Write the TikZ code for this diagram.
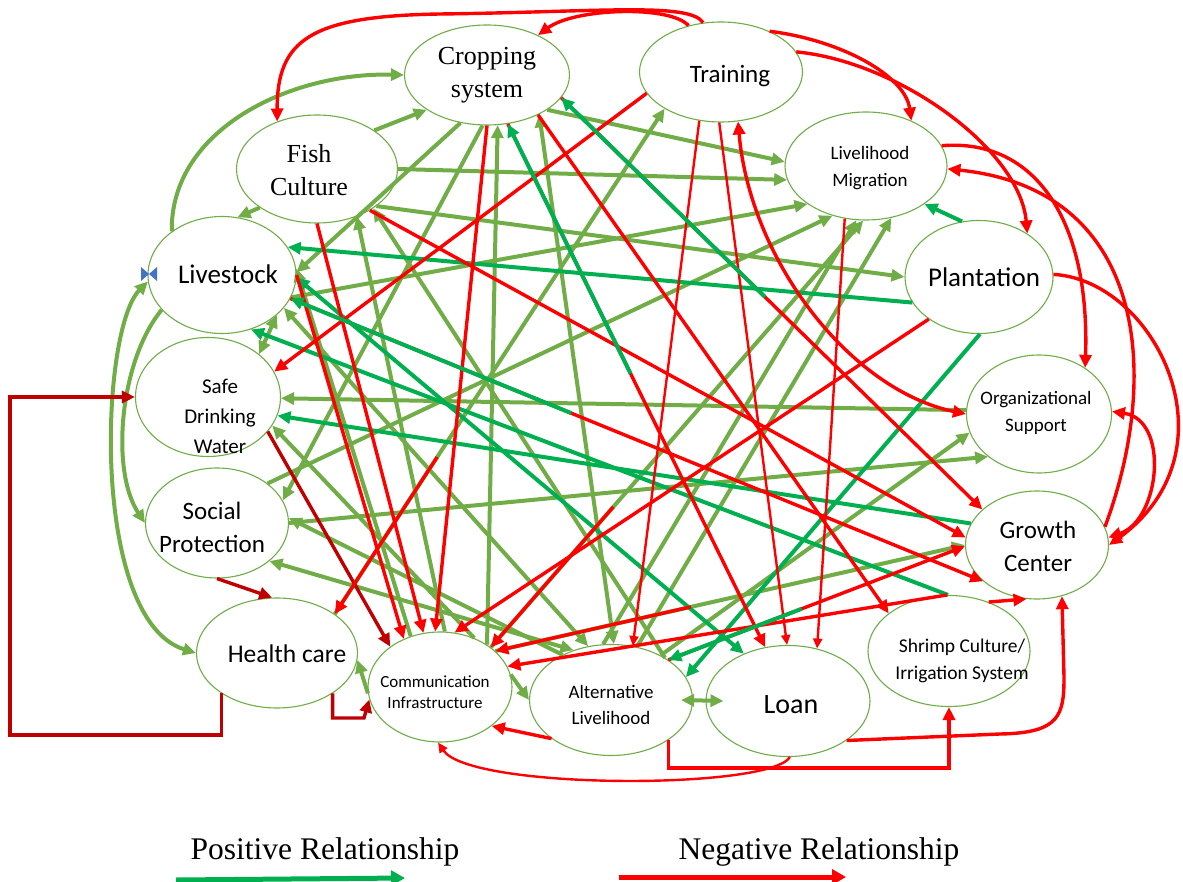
\documentclass[tikz,border=0pt]{standalone}
\usepackage{fontspec}
\setmainfont{Liberation Serif}
\newfontfamily\cb{Carlito}
\usetikzlibrary{shapes.geometric,arrows.meta}
\definecolor{olv}{HTML}{70AD47}
\definecolor{grn}{HTML}{00B050}
\definecolor{rd}{HTML}{FF0000}
\definecolor{drd}{HTML}{C00000}
\definecolor{bmk}{HTML}{4472C4}
\tikzset{
 ell/.style={ellipse, draw=olv, line width=1.1pt, fill=white, inner sep=0pt},
 lbl/.style={align=center, inner sep=0pt, text=black},
 olvl/.style={olv, line width=4pt, ->},
 grnl/.style={grn, line width=4pt, ->},
 redl/.style={rd, line width=3.4pt, ->},
 thinr/.style={rd, line width=2.4pt, -{Triangle[length=10pt,width=9pt]}},
 drdl/.style={drd, line width=3.4pt, ->},
 legl/.style={line width=5pt, -{Triangle[length=14pt,width=15pt]}}
}
\begin{document}
\begin{tikzpicture}[x=1pt,y=-1pt,>={Triangle[length=13pt,width=12pt]}]
\fill[white] (0,0) rectangle (1183,882);
\useasboundingbox (0,0) rectangle (1183,882);
% nodes
\node[ell, minimum width=165pt, minimum height=100pt] (CS) at (487,75) {};
\node[ell, minimum width=163pt, minimum height=100pt] (TR) at (721,72) {};
\node[ell, minimum width=161pt, minimum height=108pt] (FC) at (317,169) {};
\node[ell, minimum width=162pt, minimum height=108pt] (LM) at (866,166) {};
\node[ell, minimum width=148pt, minimum height=117pt] (LS) at (222,275) {};
\node[ell, minimum width=148pt, minimum height=113pt] (PL) at (979,277) {};
\node[ell, minimum width=145pt, minimum height=119pt] (SDW) at (208,397) {};
\node[ell, minimum width=145pt, minimum height=118pt] (OS) at (1039,414) {};
\node[ell, minimum width=143pt, minimum height=110pt] (SP) at (217,523) {};
\node[ell, minimum width=143pt, minimum height=108pt] (GC) at (1037,545) {};
\node[ell, minimum width=161pt, minimum height=110pt] (HC) at (277,653) {};
\node[ell, minimum width=144pt, minimum height=110pt] (CI) at (440,687) {};
\node[ell, minimum width=163pt, minimum height=111pt] (AL) at (611,700) {};
\node[ell, minimum width=164pt, minimum height=111pt] (LO) at (788,701) {};
\node[ell, minimum width=162pt, minimum height=111pt] (SC) at (949,651) {};
% olive (positive)
\draw[olvl] (LS.139) .. controls (170,130) and (290,72) .. (CS.180);
\draw[olvl] (FC.34) -- (CS.210);
\draw[olvl] (FC.214) -- (LS.75);
\draw[olvl] (CS.241) -- (LS.2);
\draw[olvl] (CI.42) -- (CS.282);
\draw[olvl,<->] (CS.323) -- (AL.87);
\draw[olvl] (CS.330) -- (LM.177);
\draw[olvl] (FC.0) -- (LM.190);
\draw[olvl] (FC.328) -- (PL.180);
\draw[olvl] (LS.342) -- (LM.213);
\draw[olvl] (SP.38) -- (LM.236);
\draw[olvl] (AL.64) -- (LM.296);
\draw[olvl] (AL.98) -- (LM.260);
\draw[olvl] (CI.38) -- (LM.267);
\draw[olvl] (AL.42) -- (OS.195);
\draw[olvl] (SP.0) -- (OS.220);
\draw[olvl] (OS.177) -- (SDW.359);
\draw[olvl] (CS.265) -- (SP.19);
\draw[olvl] (HC.34) -- (TR.213);
\draw[olvl] (CI.85) -- (FC.310);
\draw[olvl] (AL.38) -- (FC.325);
\draw[olvl] (CI.55) -- (SDW.336);
\draw[olvl] (AL.137) -- (SP.4);
\draw[olvl,<->] (SP.324) -- (AL.127);
\draw[olvl,<->] (LS.332) -- (AL.113);
\draw[olvl] (CI.120) -- (LS.5);
\draw[olvl,<->] (LS.324) -- (SDW.40);
\draw[olvl] (LS.210) .. controls (120,360) and (110,470) .. (SP.180);
\draw[olvl,<->] (LS.185) .. controls (100,330) and (90,620) .. (HC.180);
\draw[olvl] (CI.10) -- (AL.180);
\draw[olvl] (CI.185) -- (HC.-5);
\draw[olvl,<->] ([xshift=-12pt]AL.0) -- ([xshift=18pt]LO.180);
\draw[olvl] (CI.33) -- (GC.180);
% teal (positive)
\draw[grnl] (PL.107) -- (LM.327);
\draw[grnl] (PL.201) -- (LS.23);
\draw[grnl] (GC.162) -- (SDW.345);
\draw[grnl] (PL.271) -- (AL.17);
\draw[grnl,<->] (LS.358) -- (LO.133);
\draw[grnl] (SC.91) -- (LS.298);
% red (negative)
\draw[redl] (TR.125) .. controls (670,5) and (575,8) .. (CS.38);
\draw[redl] (TR.110) .. controls (690,2) and (600,12) .. (440,14) .. controls (310,16) and (277,40) .. (FC.130);
\draw[redl] (TR.40) .. controls (840,40) and (905,75) .. (LM.45);
\draw[redl] (TR.15) .. controls (900,62) and (1020,150) .. (PL.42);
\draw[redl] (LM.15) .. controls (1035,138) and (1090,220) .. (OS.45);
\draw[redl] (GC.15) .. controls (1160,380) and (1150,190) .. (LM.-2);
\draw[redl] (PL.2) .. controls (1155,280) and (1240,450) .. (GC.0);
\draw[redl,<->] (OS.2) .. controls (1170,420) and (1160,520) .. (GC.6);
\draw[thinr] (LM.248) -- (LO.61);
\draw[thinr] (TR.268) -- (LO.91);
\draw[redl,<->] (TR.289) .. controls (750,260) and (850,390) .. (OS.180);
\draw[thinr] (TR.246) -- (AL.68);
\draw[redl] (TR.196) -- (SDW.21);
\draw[redl] (CS.270) -- (CI.95);
\draw[redl] (CS.293) -- (LO.113);
\draw[redl] (CS.322) -- (SC.148);
\draw[redl] (CS.343) -- (GC.147);
\draw[redl] (FC.270) -- (CI.107);
\draw[redl] (FC.322) -- (GC.174);
\draw[redl] (LS.0) -- (CI.127);
\draw[redl] (LS.341) -- (GC.214);
\draw[redl] (PL.220) -- (CI.75);
\draw[redl] (SC.92) -- (CI.17);
\draw[redl] (SC.51) -- (GC.259);
\draw[redl] (AL.213) -- (CI.323);
\draw[redl] (AL.35) -- (GC.181);
\draw[redl] (AL.-35) -- (AL.-35 |- 0,768) -- (SC.270 |- 0,768) -- (SC.270);
\draw[redl] (LO.-34) -- (1000,734) .. controls (1060,733) and (1064,715) .. (1064,677) -- (GC.296);
\draw[thinr] (LO.272) .. controls (770,790) and (470,790) .. (CI.268);
% dark red
\draw[drdl] (SDW.330) -- (CI.141);
\draw[drdl] (SP.270) -- (HC.95);
\draw[drdl] (HC.216) -- (HC.216 |- 0,735) -- (10,735) -- (10,397) -- (SDW.180);
\draw[drdl] (HC.-36) -- (HC.-36 |- 0,718) -- (364,718) -- (CI.190);
% overlapping two-way links
\draw[grnl, shorten <=305pt] (LO.113) -- (CS.293);
\draw[grnl, shorten <=304pt] (GC.147) -- (CS.343);
\draw[grnl, shorten <=175pt] (GC.181) -- (AL.35);
\draw[grnl, shorten <=445pt] (GC.214) -- (LS.341);
\draw[redl, shorten <=416pt] (TR.213) -- (HC.34);
\draw[redl, shorten <=380pt] (LM.267) -- (CI.38);
\draw[redl, shorten <=281pt] (GC.180) -- (CI.33);
% blue mark
\fill[bmk] (141,267) -- (149,274) -- (141,281) -- cycle;
\fill[bmk] (157,267) -- (149,274) -- (157,281) -- cycle;
% texts
\node[lbl, font=\fontsize{26}{33}\selectfont] (CSt) at (487,75) {Cropping\\system};
\node[lbl, font=\cb\fontsize{25}{30}\selectfont] (TRt) at (730,76) {Training};
\node[lbl, font=\fontsize{26}{33}\selectfont] (FCt) at (309,170) {Fish\\Culture};
\node[lbl, font=\cb\fontsize{19}{27}\selectfont] (LMt) at (870,168) {Livelihood\\Migration};
\node[lbl, font=\cb\fontsize{27}{30}\selectfont] (LSt) at (228,274) {Livestock};
\node[lbl, font=\cb\fontsize{27}{30}\selectfont] (PLt) at (984,277) {Plantation};
\node[lbl, font=\cb\fontsize{21}{30}\selectfont] (SDWt) at (220,416) {Safe\\Drinking\\Water};
\node[lbl, font=\cb\fontsize{19}{27}\selectfont] (OSt) at (1036,413) {Organizational\\Support};
\node[lbl, font=\cb\fontsize{25}{33}\selectfont] (SPt) at (212,527) {Social\\Protection};
\node[lbl, font=\cb\fontsize{25}{33}\selectfont] (GCt) at (1038,546) {Growth\\Center};
\node[lbl, font=\cb\fontsize{25.5}{30}\selectfont] (HCt) at (287,654) {Health care};
\node[lbl, font=\cb\fontsize{17}{21}\selectfont] (CIt) at (435,692) {Communication\\Infrastructure};
\node[lbl, font=\cb\fontsize{19}{26}\selectfont] (ALt) at (611,705) {Alternative\\Livelihood};
\node[lbl, font=\cb\fontsize{28}{30}\selectfont] (LOt) at (791,705) {Loan};
\node[lbl, font=\cb\fontsize{19.5}{27}\selectfont] (SCt) at (962,661) {Shrimp Culture/\\Irrigation System};
% legend
\node[lbl, font=\fontsize{31.5}{36}\selectfont, anchor=base] (posl) at (325,859) {Positive Relationship};
\node[lbl, font=\fontsize{31.5}{36}\selectfont, anchor=base] (negl) at (819,859) {Negative Relationship};
\coordinate (pa) at (176,880);
\coordinate (pb) at (405,878);
\coordinate (na) at (619,877);
\coordinate (nb) at (846,877);
\draw[legl, grn] (pa) -- (pb);
\draw[legl, rd] (na) -- (nb);
\end{tikzpicture}
\end{document}
